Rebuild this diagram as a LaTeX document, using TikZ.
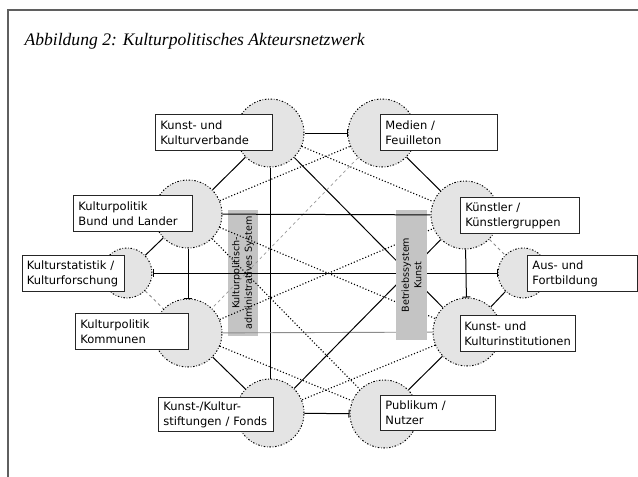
\documentclass[tikz,border=0pt]{standalone}
\usepackage{fontspec}
\setmainfont{Liberation Serif}
\newfontfamily\boxfont{DejaVu Sans}
\usepackage{xcolor}
\usepackage{tikz}
\usetikzlibrary{arrows.meta}
\definecolor{actorgray}{RGB}{228,228,228}
\definecolor{systemgray}{RGB}{196,196,196}
\definecolor{framegray}{RGB}{95,95,95}

\begin{document}
\begin{tikzpicture}[x=1pt, y=-1pt,
    actor/.style={circle, fill=actorgray, draw=black, line width=1pt,
        dash pattern=on 1.5pt off 1.8pt on 0.6pt off 1.8pt, inner sep=0pt, minimum size=68pt},
    smallactor/.style={actor, minimum size=50pt},
    labelbox/.style={draw=black!85, line width=0.9pt, fill=white, align=left, anchor=north west,
        inner xsep=5pt, inner ysep=0pt, minimum height=36pt, font=\boxfont\fontsize{11.5}{15}\selectfont},
    system/.style={fill=systemgray, rotate=90, align=center, inner sep=0pt,
        font=\boxfont\fontsize{9.6}{12.5}\selectfont},
    link/.style={black, line width=1pt},
    weaklink/.style={black, line width=1.1pt, dotted},
    greylink/.style={black!45, line width=0.9pt},
    barend/.style={-{Bar[width=8pt, line width=1pt]}}
]
\useasboundingbox (0,0) rectangle (638,477);
\draw[framegray, line width=1.6pt] (8,477) -- (8,10) -- (638,10);

\node[anchor=base west, font=\itshape\fontsize{17.6}{20}\selectfont] (title) at (21,45)
    {Abbildung 2: Kulturpolitisches Akteursnetzwerk};

% system left
\node[system, minimum width=126pt, minimum height=30pt] (kpsys) at (243,273)
    {Kulturpolitisch-\\administratives System};

% actors
\node[actor] (kv) at (270,133) {};
\node[actor] (me) at (382,133) {};
\node[actor] (bl) at (188,214) {};
\node[actor] (kg) at (465,215) {};
\node[smallactor] (ks) at (127,273) {};
\node[smallactor] (af) at (523,273) {};
\node[actor] (kk) at (188,333) {};
\node[actor] (ki) at (467,332) {};
\node[actor] (kf) at (270,413) {};
\node[actor] (pn) at (384,414) {};

% outer ring
\draw[link] (kv) -- (bl);
\draw[link] (bl) -- (ks);
\draw[link] (kk) -- (kf);
\draw[link] (me) -- (kg);
\draw[link] (ki) -- (af);
\draw[link] (pn) -- (ki);
\draw[greylink, dashed] (ks) -- (kk);
\draw[greylink, dashed] (kg) -- (af);

% straight links
\draw[link, barend] (kv) -- (me);
\draw[link, barend] (kf) -- (pn);
\draw[link, {Bar[width=8pt, line width=1pt]}-{Bar[width=8pt, line width=1pt]}] (ks) -- (af);
\draw[link, barend] (bl) -- (kk);
\draw[link, barend] (kg) -- (ki);
\draw[link] (kv) -- (kf);
\draw[greylink] (kk) -- (ki);

% cross links
\draw[link] (kv) -- (ki);
\draw[link] (kg) -- (kf);
\draw[black!40, line width=0.7pt, dashed] (me) -- (kk);
\draw[weaklink] (kv) -- (kg);
\draw[weaklink] (bl) -- (me);
\draw[weaklink] (bl) -- (ki);
\draw[weaklink] (kk) -- (kg);
\draw[weaklink] (bl) -- (pn);
\draw[weaklink] (kk) -- (pn);
\draw[weaklink] (ki) -- (kf);

% system right
\node[system, minimum width=130pt, minimum height=31pt] (bksys) at (411.5,275)
    {Betriebssystem\\Kunst};
\draw[link] (bl) -- (kg);

% labels
\node[labelbox, text width=107pt] (kvl) at (155,114) {Kunst- und\\Kulturverbande};
\node[labelbox, text width=107pt] (mel) at (380,114) {Medien /\\Feuilleton};
\node[labelbox, text width=109pt] (bll) at (73,195) {Kulturpolitik\\Bund und Lander};
\node[labelbox, text width=109pt] (kgl) at (460,197) {Künstler /\\Künstlergruppen};
\node[labelbox, text width=93pt, inner xsep=4.5pt] (ksl) at (22,255) {Kulturstatistik /\\Kulturforschung};
\node[labelbox, text width=100pt] (afl) at (527,255) {Aus- und\\Fortbildung};
\node[labelbox, text width=103pt] (kkl) at (75,313) {Kulturpolitik\\Kommunen};
\node[labelbox, text width=107pt, inner xsep=4pt] (kil) at (460,315) {Kunst- und\\Kulturinstitutionen};
\node[labelbox, text width=105pt, minimum height=34pt] (kfl) at (158,397) {Kunst-/Kultur-\\stiftungen / Fonds};
\node[labelbox, text width=105pt, minimum height=35pt] (pnl) at (380,395) {Publikum /\\Nutzer};
\end{tikzpicture}
\end{document}
